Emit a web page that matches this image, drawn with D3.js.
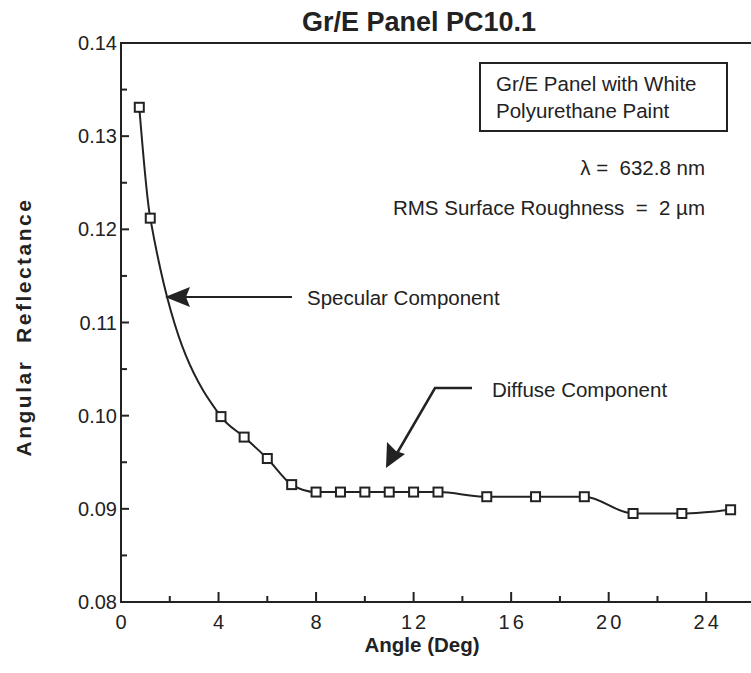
<!DOCTYPE html>
<html>
<head>
<meta charset="utf-8">
<script src="https://cdn.jsdelivr.net/npm/d3@7"></script>
<style>
  body { margin: 0; background: #fff; }
  svg { display: block; font-family: "Liberation Sans", Arial, sans-serif; }
</style>
</head>
<body>
<div id="chart"></div>
<script>
var angles = [0.75, 1.2, 4.1, 5.05, 6.0, 7.0, 8, 9, 10, 11, 12, 13, 15, 17, 19, 21, 23, 25];
var reflectance = [0.1331, 0.1212, 0.0999, 0.0977, 0.0954, 0.0926, 0.0918, 0.0918, 0.0918, 0.0918, 0.0918, 0.0918, 0.0913, 0.0913, 0.0913, 0.0895, 0.0895, 0.0899];
var xMajor = [0, 4, 8, 12, 16, 20, 24];
var xMinor = [2, 6, 10, 14, 18, 22];
var yMajor = [0.08, 0.09, 0.10, 0.11, 0.12, 0.13, 0.14];
var yMinor = [0.085, 0.095, 0.105, 0.115, 0.125, 0.135];
var titleText = "Gr/E Panel PC10.1";
var boxLines = ["Gr/E Panel with White", "Polyurethane Paint"];

var W = 751, H = 673;
var ink = "#222";
var fs = "20.5px";

var svg = d3.select("#chart").append("svg")
    .attr("width", W)
    .attr("height", H);

var x = d3.scaleLinear().domain([0, 26]).range([121, 755]);
var y = d3.scaleLinear().domain([0.08, 0.14]).range([602, 43]);

// frame (right side falls outside the picture)
svg.append("rect")
    .attr("x", x(0))
    .attr("y", y(0.14))
    .attr("width", x(26) - x(0))
    .attr("height", y(0.08) - y(0.14))
    .attr("fill", "none")
    .attr("stroke", ink)
    .attr("stroke-width", 2);

// axes with inward ticks
var xAxis = svg.append("g").attr("transform", "translate(0," + y(0.08) + ")");
xAxis.selectAll(".maj").data(xMajor).enter().append("line")
    .attr("x1", function(d) { return x(d); })
    .attr("x2", function(d) { return x(d); })
    .attr("y1", 0).attr("y2", -10)
    .attr("stroke", ink).attr("stroke-width", 2);
xAxis.selectAll(".min").data(xMinor).enter().append("line")
    .attr("x1", function(d) { return x(d); })
    .attr("x2", function(d) { return x(d); })
    .attr("y1", 0).attr("y2", -6)
    .attr("stroke", ink).attr("stroke-width", 2);
xAxis.selectAll("text").data(xMajor).enter().append("text")
    .attr("x", function(d) { return x(d) + 1.5; })
    .attr("y", 27)
    .attr("text-anchor", "middle")
    .style("font-size", "20px")
    .style("letter-spacing", "3px")
    .attr("fill", ink)
    .text(function(d) { return d; });

var yAxis = svg.append("g").attr("transform", "translate(" + x(0) + ",0)");
yAxis.selectAll(".maj").data(yMajor).enter().append("line")
    .attr("y1", function(d) { return y(d); })
    .attr("y2", function(d) { return y(d); })
    .attr("x1", 0).attr("x2", 8)
    .attr("stroke", ink).attr("stroke-width", 2);
yAxis.selectAll(".min").data(yMinor).enter().append("line")
    .attr("y1", function(d) { return y(d); })
    .attr("y2", function(d) { return y(d); })
    .attr("x1", 0).attr("x2", 6)
    .attr("stroke", ink).attr("stroke-width", 2);
yAxis.selectAll("text").data(yMajor).enter().append("text")
    .attr("x", -4)
    .attr("y", function(d) { return y(d) + 7; })
    .attr("text-anchor", "end")
    .style("font-size", "20px")
    .attr("fill", ink)
    .text(function(d) { return d3.format(".2f")(d); });

// titles
svg.append("text")
    .attr("x", 419).attr("y", 31)
    .attr("text-anchor", "middle")
    .style("font-size", "27px").style("font-weight", "bold")
    .attr("fill", ink)
    .text(titleText);

svg.append("text")
    .attr("x", 422).attr("y", 652)
    .attr("text-anchor", "middle")
    .style("font-size", "20.5px").style("font-weight", "bold")
    .attr("fill", ink)
    .text("Angle (Deg)");

svg.append("text")
    .attr("transform", "translate(31,327) rotate(-90)")
    .attr("text-anchor", "middle")
    .style("font-size", "21px").style("font-weight", "bold")
    .style("letter-spacing", "2.5px")
    .style("white-space", "pre")
    .attr("fill", ink)
    .text("Angular  Reflectance");

// curve and markers
var pts = angles.map(function(a, i) { return [a, reflectance[i]]; });

var line = d3.line()
    .x(function(d) { return x(d[0]); })
    .y(function(d) { return y(d[1]); })
    .curve(d3.curveMonotoneX);

svg.append("path")
    .datum(pts)
    .attr("d", line)
    .attr("fill", "none")
    .attr("stroke", ink)
    .attr("stroke-width", 2);

svg.selectAll(".pt").data(pts).enter().append("rect")
    .attr("class", "pt")
    .attr("x", function(d) { return x(d[0]) - 4.5; })
    .attr("y", function(d) { return y(d[1]) - 4.5; })
    .attr("width", 9).attr("height", 9)
    .attr("fill", "#fff")
    .attr("stroke", ink)
    .attr("stroke-width", 2);

// legend box
svg.append("rect")
    .attr("x", 480).attr("y", 63)
    .attr("width", 247).attr("height", 68)
    .attr("fill", "none")
    .attr("stroke", ink)
    .attr("stroke-width", 2);
svg.selectAll(".box").data(boxLines).enter().append("text")
    .attr("x", 496)
    .attr("y", function(d, i) { return 91 + i * 27; })
    .style("font-size", fs)
    .attr("fill", ink)
    .text(function(d) { return d; });

svg.append("text")
    .attr("x", 705).attr("y", 175)
    .attr("text-anchor", "end")
    .style("font-size", fs)
    .style("white-space", "pre")
    .attr("fill", ink)
    .text("\u03bb =  632.8 nm");
svg.append("text")
    .attr("x", 705).attr("y", 215)
    .attr("text-anchor", "end")
    .style("font-size", fs)
    .style("white-space", "pre")
    .attr("fill", ink)
    .text("RMS Surface Roughness  =  2 \u00b5m");

// annotation arrows
svg.append("line")
    .attr("x1", 292).attr("y1", 297)
    .attr("x2", 185).attr("y2", 297)
    .attr("stroke", ink).attr("stroke-width", 2);
svg.append("path")
    .attr("d", "M165,297 L190,287 L186,297 L190,307 Z")
    .attr("fill", ink);
svg.append("text")
    .attr("x", 307).attr("y", 305)
    .style("font-size", fs)
    .attr("fill", ink)
    .text("Specular Component");

svg.append("path")
    .attr("d", "M472,388 L435,388 L396,455")
    .attr("fill", "none")
    .attr("stroke", ink).attr("stroke-width", 2.5);
svg.append("path")
    .attr("d", "M386,468 L387,442 L396,451 L405,454 Z")
    .attr("fill", ink);
svg.append("text")
    .attr("x", 492).attr("y", 397)
    .style("font-size", fs)
    .attr("fill", ink)
    .text("Diffuse Component");
</script>
</body>
</html>
